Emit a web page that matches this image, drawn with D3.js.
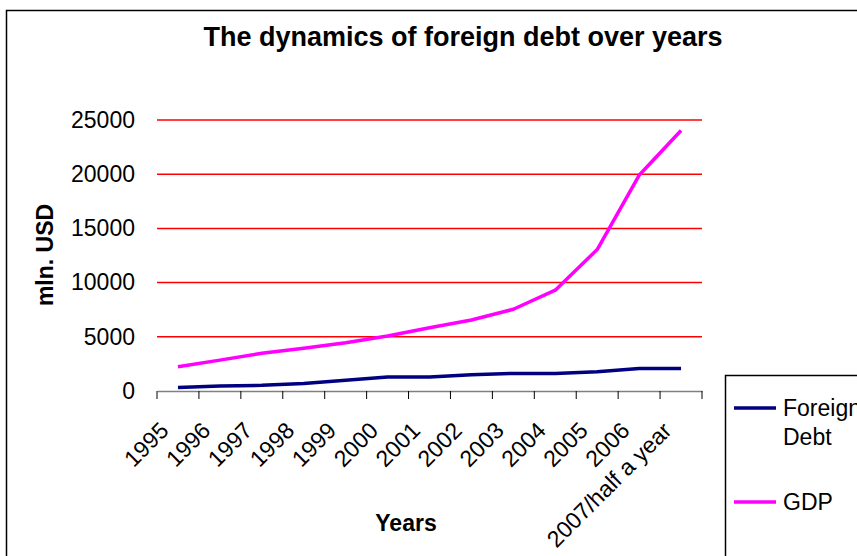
<!DOCTYPE html>
<html><head><meta charset="utf-8">
<script src="https://cdn.jsdelivr.net/npm/d3@7"></script>
<style>body{margin:0;background:#fff}svg{display:block;font-family:"Liberation Sans",Arial,sans-serif}</style>
</head><body><svg id="c" width="857" height="556"></svg>
<script>
const categories = ["1995","1996","1997","1998","1999","2000","2001","2002","2003","2004","2005","2006","2007/half a year"];
const foreignDebt = [320, 460, 520, 700, 1000, 1300, 1300, 1500, 1620, 1620, 1780, 2080, 2080];
const gdp = [2230, 2850, 3480, 3950, 4460, 5070, 5830, 6550, 7540, 9300, 13050, 19900, 24030];
const yTicks = [0, 5000, 10000, 15000, 20000, 25000];
const seriesNames = ["Foreign Debt", "GDP"];
const seriesColors = ["#000080", "#FF00FF"];

const svg = d3.select("#c");
// outer frame
svg.append("path").attr("d","M6.5,560 V10.5 H870").attr("fill","none").attr("stroke","#000").attr("stroke-width",1.5);

const L = 157, R = 702, T = 120, B = 391;
const x = d3.scaleBand().domain(categories).range([L, R]);
const y = d3.scaleLinear().domain([0, 25000]).range([B, T]);

// gridlines
svg.append("g").selectAll("line").data(yTicks.filter(d => d > 0)).join("line")
  .attr("x1", L).attr("x2", R).attr("y1", d => y(d)).attr("y2", d => y(d))
  .attr("stroke", "#FF0000").attr("stroke-width", 1.5);

// y axis labels
const yAxis = d3.axisLeft(y).tickValues(yTicks).tickSize(0).tickPadding(22).tickFormat(d3.format("d"));
const gy = svg.append("g").attr("transform", `translate(${L},0)`).call(yAxis);
gy.select(".domain").remove();
gy.selectAll("text").attr("font-size", 23).attr("fill", "#000").attr("font-family", "Liberation Sans, Arial, sans-serif");

// x axis
const xAxis = d3.axisBottom(x).tickSizeInner(0).tickSizeOuter(0).tickFormat("");
const gx = svg.append("g").attr("transform", `translate(0,${B})`).call(xAxis);
gx.select(".domain").attr("stroke", "#808080").attr("stroke-width", 1.5);
// tick marks at band boundaries
const bounds = categories.map(c => x(c)).concat([x(categories[categories.length-1]) + x.bandwidth()]);
svg.append("g").selectAll("line").data(bounds).join("line")
  .attr("x1", d => d).attr("x2", d => d).attr("y1", B).attr("y2", B + 8)
  .attr("stroke", "#000").attr("stroke-width", 1);

// x labels rotated
svg.append("g").selectAll("text").data(categories).join("text")
  .attr("transform", d => `translate(${x(d) + x.bandwidth()/2 - 8},${B + 41}) rotate(-45)`)
  .attr("text-anchor", "end").attr("font-size", 23).attr("fill", "#000")
  .text(d => d);

// lines
const line = d3.line().x((d, i) => x(categories[i]) + x.bandwidth()/2).y(d => y(d));
[foreignDebt, gdp].forEach((s, k) => {
  svg.append("path").datum(s).attr("d", line).attr("fill", "none")
    .attr("stroke", seriesColors[k]).attr("stroke-width", 3.5).attr("stroke-linejoin", "round");
});

// title
svg.append("text").attr("x", 463).attr("y", 46).attr("text-anchor", "middle")
  .attr("font-size", 27).attr("font-weight", "bold").text("The dynamics of foreign debt over years");
// y title
svg.append("text").attr("transform", "translate(53,255) rotate(-90)").attr("text-anchor", "middle")
  .attr("font-size", 23).attr("font-weight", "bold").text("mln. USD");
// x title
svg.append("text").attr("x", 406).attr("y", 531).attr("text-anchor", "middle")
  .attr("font-size", 23).attr("font-weight", "bold").text("Years");

// legend
const lg = svg.append("g");
lg.append("rect").attr("x", 725.5).attr("y", 375.5).attr("width", 200).attr("height", 250)
  .attr("fill", "#fff").attr("stroke", "#000").attr("stroke-width", 1.5);
const legendY = [408, 502];
seriesNames.forEach((n, k) => {
  lg.append("line").attr("x1", 734).attr("x2", 776).attr("y1", legendY[k]).attr("y2", legendY[k])
    .attr("stroke", seriesColors[k]).attr("stroke-width", 3.5);
  const words = k === 0 ? ["Foreign", "Debt"] : [n];
  const t = lg.append("text").attr("font-size", 23).attr("fill", "#000");
  words.forEach((w, j) => t.append("tspan").attr("x", 783).attr("y", legendY[k] + 8 + j * 29).text(w));
});
</script></body></html>
